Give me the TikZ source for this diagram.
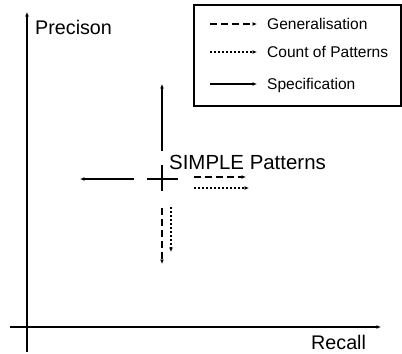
\documentclass[tikz,border=0pt]{standalone}
\usepackage{fontspec}
\setmainfont{Liberation Sans}
\usetikzlibrary{arrows.meta}

\tikzset{
  axis/.style={line width=1.8pt, -{Latex[length=4.5pt,width=4pt]}},
  move/.style={line width=1.8pt, -{Latex[length=4.5pt,width=4pt]}},
  gen/.style={move, dash pattern=on 7pt off 4pt},
  cnt/.style={move, line width=1.5pt, dash pattern=on 2pt off 2pt},
  spec/.style={move},
  label/.style={inner sep=0pt, anchor=base west}
}

\begin{document}
\begin{tikzpicture}[x=1bp, y=-1bp]
\useasboundingbox[fill=white] (0,0) rectangle (402,354);

% axes
\coordinate (ybot) at (27,352);
\coordinate (ytop) at (27,12);
\coordinate (xleft) at (10,327);
\coordinate (xright) at (381,327);
\draw[axis] (ybot) -- (ytop);
\draw[axis] (xleft) -- (xright);
\node[label, font=\fontsize{19.8}{20}\selectfont] (prec) at (35,34) {Precison};
\node[label, font=\fontsize{19.8}{20}\selectfont] (rec) at (311,349) {Recall};

% legend
\draw[line width=1.5pt] (194,5) rectangle (401,106);
\coordinate (g0) at (210,24);
\coordinate (g1) at (257,24);
\coordinate (c0) at (210,52);
\coordinate (c1) at (257,52);
\coordinate (s0) at (210,84);
\coordinate (s1) at (257,84);
\draw[gen] (g0) -- (g1);
\draw[cnt] (c0) -- (c1);
\draw[spec] (s0) -- (s1);
\node[label, font=\fontsize{15.6}{16}\selectfont] (lgen) at (267,29) {Generalisation};
\node[label, font=\fontsize{15.6}{16}\selectfont] (lcnt) at (267,57) {Count of Patterns};
\node[label, font=\fontsize{15.6}{16}\selectfont] (lspec) at (267,89) {Specification};

% simple patterns
\coordinate (simple) at (162,179);
\draw[line width=2pt] (147,179) -- (178,179);
\draw[line width=2pt] (162,165) -- (162,191);
\node[label, font=\fontsize{20.5}{21}\selectfont] (lsimple) at (169,169) {SIMPLE Patterns};

\coordinate (up0) at (162,151);
\coordinate (up1) at (162,84);
\coordinate (left0) at (134,179);
\coordinate (left1) at (80,179);
\coordinate (rg0) at (194,177);
\coordinate (rg1) at (246,177);
\coordinate (rc0) at (194,188);
\coordinate (rc1) at (249,188);
\coordinate (dg0) at (162,208);
\coordinate (dg1) at (162,264);
\coordinate (dc0) at (171,207);
\coordinate (dc1) at (171,252);
\draw[spec] (up0) -- (up1);
\draw[spec] (left0) -- (left1);
\draw[gen] (rg0) -- (rg1);
\draw[cnt] (rc0) -- (rc1);
\draw[gen] (dg0) -- (dg1);
\draw[cnt] (dc0) -- (dc1);
\end{tikzpicture}
\end{document}
